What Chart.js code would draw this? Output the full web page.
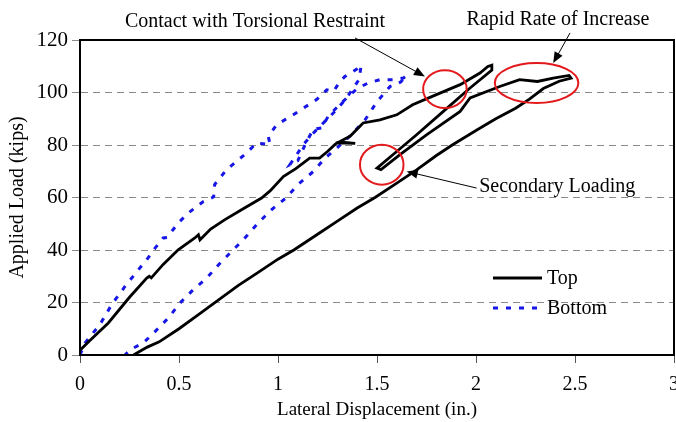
<!DOCTYPE html>
<html>
<head>
<meta charset="utf-8">
<script src="https://cdn.jsdelivr.net/npm/chart.js@4.4.0/dist/chart.umd.min.js"></script>
<style>
  html, body { margin: 0; padding: 0; background: #fff; }
</style>
</head>
<body>
<canvas id="myChart" width="676" height="422"></canvas>
<script>
// Top gauge: lateral displacement (in.) vs applied load (kips)
var topDisp = [0, 0.05, 0.143, 0.25, 0.337, 0.35, 0.36, 0.42, 0.496, 0.58, 0.598, 0.606, 0.66, 0.73, 0.82, 0.917, 0.96, 1.027, 1.09, 1.16, 1.21, 1.25, 1.296, 1.39, 1.31, 1.364, 1.43, 1.515, 1.60, 1.68, 1.80, 1.92, 2.02, 2.06, 2.08, 2.08,
  1.97, 1.835, 1.70, 1.58, 1.50, 1.52,
  1.616, 1.75, 1.92, 1.97, 2.12, 2.22, 2.31, 2.39, 2.47, 2.48,
  2.42, 2.34, 2.27, 2.20, 2.10, 2.00, 1.88, 1.80, 1.70, 1.60, 1.49, 1.40, 1.30, 1.20, 1.08, 1.00, 0.90, 0.80, 0.70, 0.60, 0.50, 0.40, 0.34, 0.27];
var topLoad = [1.8, 5.5, 12.2, 22, 29.3, 30, 29.4, 34.5, 40.1, 44.6, 45.8, 43.9, 48, 51.5, 55.5, 59.8, 62.5, 68, 71, 75, 75, 77.5, 80.8, 80.6, 81.2, 83.3, 88.4, 89.6, 91.5, 95.3, 99.2, 103, 107.4, 109.9, 110.4, 108.5,
  101.7, 92.8, 83.9, 76.3, 71.2, 70.6,
  76.3, 83.9, 92.8, 97.9, 102.3, 104.9, 104.2, 105.5, 106.5, 105.5,
  104.3, 101.5, 97.5, 94, 90, 85.5, 80, 76, 70.5, 65.5, 60, 56, 51, 46, 40, 36.5, 31.5, 26.5, 21, 15.5, 10, 5, 3, 0];

// Bottom gauge
var botDisp = [0, 0.025, 0.10, 0.16, 0.227, 0.295, 0.337, 0.38, 0.42, 0.44, 0.496, 0.547, 0.623, 0.665, 0.675, 0.68, 0.74, 0.842, 0.892, 0.96, 0.951, 0.993, 1.077, 1.195, 1.246, 1.28, 1.313, 1.338, 1.40, 1.42,
  1.41, 1.346, 1.296, 1.254, 1.22, 1.17, 1.128, 1.094, 1.06,
  1.10, 1.136, 1.178, 1.22, 1.254, 1.30, 1.355, 1.40, 1.455, 1.515, 1.58, 1.633, 1.65,
  1.62, 1.566, 1.50, 1.44, 1.37, 1.30, 1.237, 1.18, 1.10, 1.04, 0.968, 0.90, 0.825, 0.766, 0.70, 0.64, 0.572, 0.505, 0.446, 0.38, 0.32, 0.253, 0.227];
var botLoad = [0, 4.6, 11.5, 19.2, 26.1, 32.5, 36.3, 40.8, 44.6, 44.8, 50.3, 54.1, 58.5, 59.8, 60.3, 64.9, 70.6, 77, 80.8, 80.1, 83.3, 87.7, 91.5, 97.3, 101, 100.4, 104.2, 106.1, 109, 110.5,
  105, 97.9, 93.4, 90.3, 87.7, 83.9, 80.1, 76.3, 72.5,
  74, 80, 86, 86.5, 91, 94.5, 98.5, 101.5, 103.6, 104.9, 104.9, 105.5, 106.5,
  104, 102.3, 96.5, 89.6, 83.9, 79, 75, 70, 64.9, 59.8, 55.4, 50.3, 43.9, 39.5, 34.4, 29.3, 24.9, 19.8, 14.1, 9, 4.6, 2, 0];

var seriesNames = ['Top', 'Bottom'];
var xTicks = [0, 0.5, 1, 1.5, 2, 2.5, 3];
var yTicks = [0, 20, 40, 60, 80, 100, 120];

// callouts, in data units
var notes = [
  { label: 'Contact with Torsional Restraint', at: [0.884, 126.9], from: [1.389, 120.8], to: [1.742, 106.1], ring: [1.843, 101.3, 0.11, 7.2] },
  { label: 'Rapid Rate of Increase', at: [2.414, 127.7], from: [2.475, 122.7], to: [2.39, 111.2], ring: [2.306, 103.6, 0.211, 7.6] },
  { label: 'Secondary Loading', at: [2.41, 64.1], from: [2.003, 63.6], to: [1.65, 69.9], ring: [1.524, 72.5, 0.11, 7.6] }
];

function pairs(xs, ys) {
  return xs.map(function(x, i) { return { x: x, y: ys[i] }; });
}

var serif = "'Liberation Serif', 'Times New Roman', serif";

function arrow(ctx, x0, y0, x1, y1) {
  var a = Math.atan2(y1 - y0, x1 - x0);
  var len = 11, half = 4.5;
  ctx.beginPath();
  ctx.moveTo(x0, y0);
  ctx.lineTo(x1 - Math.cos(a) * len * 0.8, y1 - Math.sin(a) * len * 0.8);
  ctx.stroke();
  ctx.beginPath();
  ctx.moveTo(x1, y1);
  ctx.lineTo(x1 - Math.cos(a) * len - Math.sin(a) * half, y1 - Math.sin(a) * len + Math.cos(a) * half);
  ctx.lineTo(x1 - Math.cos(a) * len + Math.sin(a) * half, y1 - Math.sin(a) * len - Math.cos(a) * half);
  ctx.closePath();
  ctx.fill();
}

var extras = {
  id: 'extras',
  afterDraw: function(chart) {
    var ctx = chart.ctx, a = chart.chartArea;
    var xs = chart.scales.x, ys = chart.scales.y;
    ctx.save();

    // frame
    ctx.strokeStyle = '#000';
    ctx.lineWidth = 2;
    ctx.strokeRect(a.left, a.top, a.right - a.left, a.bottom - a.top);

    // rings, arrows and labels
    notes.forEach(function(n) {
      var r = n.ring;
      var cx = xs.getPixelForValue(r[0]), cy = ys.getPixelForValue(r[1]);
      var rx = xs.getPixelForValue(r[0] + r[2]) - cx;
      var ry = cy - ys.getPixelForValue(r[1] + r[3]);
      ctx.strokeStyle = '#e3191c';
      ctx.lineWidth = 2;
      ctx.beginPath();
      ctx.ellipse(cx, cy, rx, ry, 0, 0, Math.PI * 2);
      ctx.stroke();

      ctx.strokeStyle = '#000';
      ctx.fillStyle = '#000';
      ctx.lineWidth = 1;
      arrow(ctx, xs.getPixelForValue(n.from[0]), ys.getPixelForValue(n.from[1]),
        xs.getPixelForValue(n.to[0]), ys.getPixelForValue(n.to[1]));

      ctx.font = '20px ' + serif;
      ctx.textAlign = 'center';
      ctx.textBaseline = 'middle';
      ctx.fillText(n.label, xs.getPixelForValue(n.at[0]), ys.getPixelForValue(n.at[1]));
    });

    // legend
    var ds = chart.data.datasets;
    var lx = 493, ly = [278, 308];
    ds.forEach(function(d, i) {
      ctx.strokeStyle = d.borderColor;
      ctx.lineWidth = 3;
      ctx.setLineDash(d.borderDash || []);
      ctx.beginPath();
      ctx.moveTo(lx, ly[i]);
      ctx.lineTo(lx + 49, ly[i]);
      ctx.stroke();
      ctx.setLineDash([]);
      ctx.fillStyle = '#000';
      ctx.font = '20px ' + serif;
      ctx.textAlign = 'left';
      ctx.textBaseline = 'middle';
      ctx.fillText(d.label, lx + 54, ly[i] + 1);
    });
    ctx.restore();
  }
};

new Chart('myChart', {
  type: 'scatter',
  data: {
    datasets: [{
      label: seriesNames[0],
      data: pairs(topDisp, topLoad),
      showLine: true,
      borderColor: '#000',
      borderWidth: 2.8,
      pointRadius: 0,
      tension: 0
    }, {
      label: seriesNames[1],
      data: pairs(botDisp, botLoad),
      showLine: true,
      borderColor: '#1616e6',
      borderWidth: 3,
      borderDash: [5, 8],
      pointRadius: 0,
      tension: 0
    }]
  },
  options: {
    responsive: false,
    animation: false,
    devicePixelRatio: 1,
    layout: { padding: { left: 0, top: 40, right: 2, bottom: 0 } },
    plugins: { legend: { display: false }, tooltip: { enabled: false } },
    scales: {
      x: {
        type: 'linear',
        min: 0, max: 3,
        afterBuildTicks: function(s) { s.ticks = xTicks.map(function(v) { return { value: v }; }); },
        afterFit: function(s) { s.height = 67; s.paddingLeft = 0; s.paddingRight = 0; },
        ticks: {
          color: '#000', font: { family: serif, size: 20 }, padding: 10, maxRotation: 0,
          callback: function(v) { return String(v); }
        },
        grid: { drawOnChartArea: false, drawTicks: true, tickLength: 8, tickColor: '#555' },
        border: { color: '#000', width: 2 },
        title: { display: true, text: 'Lateral Displacement (in.)', color: '#000', font: { family: serif, size: 19 }, padding: { top: 0, bottom: 1 } }
      },
      y: {
        type: 'linear',
        min: 0, max: 120,
        afterBuildTicks: function(s) { s.ticks = yTicks.map(function(v) { return { value: v }; }); },
        afterFit: function(s) { s.width = 80; },
        ticks: { color: '#000', font: { family: serif, size: 21 }, padding: 4 },
        grid: {
          color: function(c) { return (c.tick && (c.tick.value === 0 || c.tick.value === 120)) ? 'rgba(0,0,0,0)' : '#8a8a8a'; },
          lineWidth: 1,
          drawTicks: true, tickLength: 8, tickColor: '#8a8a8a'
        },
        border: { color: '#000', width: 2, dash: [7, 5] },
        title: { display: true, text: 'Applied Load (kips)', color: '#000', font: { family: serif, size: 20 }, padding: { top: 6, bottom: 0 } }
      }
    }
  },
  plugins: [extras]
});
</script>
</body>
</html>
